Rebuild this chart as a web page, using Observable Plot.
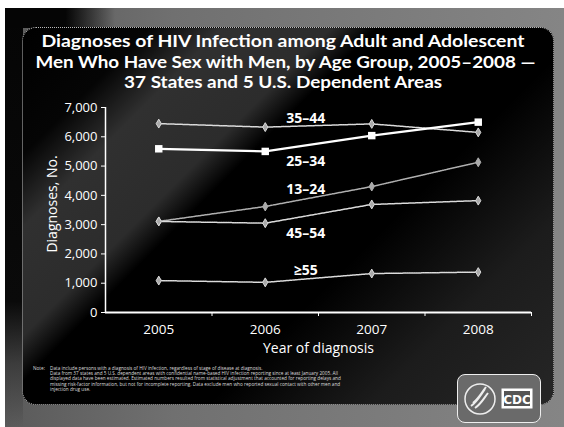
<!DOCTYPE html>
<html>
<head>
<meta charset="utf-8">
<script src="https://cdn.jsdelivr.net/npm/d3@7"></script>
<script src="https://cdn.jsdelivr.net/npm/@observablehq/plot@0.6"></script>
<style>
  html, body { margin: 0; padding: 0; background: #fff; }
  #page { position: relative; width: 564px; height: 427px; overflow: hidden; background: #fff; font-family: "Open Sans", sans-serif; }
  #frame { position: absolute; left: 5px; top: 8px; width: 559px; height: 419px;
    background: linear-gradient(90deg, #5a5a5a 0%, #707070 30%, #858585 100%); }
  #frameLeft { position: absolute; left: 5px; top: 8px; width: 18px; height: 419px;
    background: linear-gradient(to bottom, #050505 0%, #0a0a0a 70%, rgba(40,40,40,0.6) 85%, rgba(0,0,0,0) 100%); }
  #frameTop { position: absolute; left: 5px; top: 8px; width: 110px; height: 20px;
    background: linear-gradient(90deg, #050505 0%, #050505 55%, rgba(0,0,0,0) 100%); }
  #panel { position: absolute; left: 22px; top: 27px; width: 530px; height: 376px; border-radius: 14px;
    border: 1px dotted #bbb;
    background: linear-gradient(135deg, #000 0%, #050505 14%, #303030 22%, #2c2c2c 34%, #000 39%, #000 62%, #1c1c1c 80%, #262626 100%); }
  .tline { position: absolute; left: 0; width: 564px; text-align: center; color: #fff; height: 18px;
    font-family: Lato, sans-serif; font-weight: bold; font-size: 17.5px; line-height: 18px; white-space: nowrap; }
  .tline span { display: inline-block; transform-origin: 50% 50%; }
  #chart { position: absolute; left: 0; top: 90px; }
  #note { position: absolute; left: 33px; top: 366px; width: 330px; color: #ddd; font-size: 4.7px; line-height: 5.2px; }
  #note .lbl { position: absolute; left: 0; top: 0; }
  #note .txt { margin-left: 17px; white-space: nowrap; }
  #logo { position: absolute; left: 457px; top: 374px; width: 82px; height: 47px; border-radius: 8px;
    border: 1px solid #eee; background: #6a6a6a; }
</style>
</head>
<body>
<div id="page">
  <div id="frame"></div>
  <div id="frameLeft"></div>
  <div id="frameTop"></div>
  <div id="panel"></div>
  <div class="tline" id="t1" style="top:32px"><span>Diagnoses of HIV Infection among Adult and Adolescent</span></div>
  <div class="tline" id="t2" style="top:52.5px"><span>Men Who Have Sex with Men, by Age Group, 2005–2008 —</span></div>
  <div class="tline" id="t3" style="top:73px"><span>37 States and 5 U.S. Dependent Areas</span></div>
  <div id="chart"></div>
  <div id="note"><span class="lbl">Note:</span><div class="txt">Data include persons with a diagnosis of HIV infection, regardless of stage of disease at diagnosis.<br>Data from 37 states and 5 U.S. dependent areas with confidential name-based HIV infection reporting since at least January 2005. All<br>displayed data have been estimated. Estimated numbers resulted from statistical adjustment that accounted for reporting delays and<br>missing risk-factor information, but not for incomplete reporting. Data exclude men who reported sexual contact with other men and<br>injection drug use.</div></div>
  <div id="logo">
    <svg width="82" height="47" viewBox="0 0 82 47">
      <circle cx="22" cy="24" r="15" fill="none" stroke="#eee" stroke-width="1.5"/>
      <path d="M13 31 C19 27, 22 21, 27 14 M17 33 C23 29, 26 23, 30 18 M15 28 C21 23, 24 17, 28 12" stroke="#eee" stroke-width="2" fill="none"/>
      <rect x="44" y="14" width="30" height="19" fill="#fff" stroke="#fff"/>
      <rect x="46" y="16" width="26" height="15" fill="#555"/>
      <text x="59" y="28.5" text-anchor="middle" fill="#fff" font-family="DejaVu Sans" font-weight="bold" font-size="12">CDC</text>
    </svg>
  </div>
</div>
<script>
const years = [2005, 2006, 2007, 2008];
const groups = ["35–44", "25–34", "13–24", "45–54", "≥55"];
const v35_44 = [6450, 6330, 6440, 6150];
const v25_34 = [5590, 5500, 6040, 6500];
const v13_24 = [3110, 3620, 4300, 5130];
const v45_54 = [3110, 3050, 3690, 3820];
const v55plus = [1090, 1030, 1330, 1380];
const yTicks = [0, 1000, 2000, 3000, 4000, 5000, 6000, 7000];
const labelY = [6620, 5150, 4200, 2700, 1430];
const labelYear = 2006.38;

// title line fitting (target widths/centres)
const titleFit = [["t1", 483, 283], ["t2", 500, 285], ["t3", 318, 283]];
titleFit.forEach(([id, w, c]) => {
  const s = document.querySelector("#" + id + " span");
  const bw = s.getBoundingClientRect().width;
  s.style.transform = `translateX(${c - 282}px) scaleX(${w / bw})`;
});

const seriesValues = [v35_44, v25_34, v13_24, v45_54, v55plus];
const rows = [];
groups.forEach((g, i) => years.forEach((yr, j) => rows.push({group: g, year: yr, value: seriesValues[i][j]})));
const labels = groups.map((g, i) => ({group: g, year: labelYear, value: labelY[i]}));

const thin = rows.filter(d => d.group !== "25–34");
const thick = rows.filter(d => d.group === "25–34");
const strokeOf = g => g === "13–24" ? "#b0b0b0" : "#dcdcdc";

const chart = Plot.plot({
  width: 564,
  height: 270,
  marginLeft: 105,
  marginRight: 33,
  marginTop: 17,
  marginBottom: 48,
  style: {background: "transparent", color: "#fff", fontFamily: "Open Sans, sans-serif", overflow: "visible"},
  x: {type: "linear", domain: [2004.5, 2008.5]},
  y: {domain: [0, 7000]},
  marks: [
    Plot.axisY(yTicks, {tickFormat: d3.format(","), tickSize: 4, tickPadding: 4, fontSize: 13, label: null, stroke: "#fff"}),
    Plot.axisX(years, {tickFormat: d => String(d), tickSize: 0, tickPadding: 12, fontSize: 13.5, label: null}),
    Plot.axisX([2005.5, 2006.5, 2007.5, 2008.5], {tickFormat: () => "", tickSize: 4, label: null, stroke: "#fff"}),
    Plot.ruleX([2004.5], {y1: 0, y2: 7000, stroke: "#fff", strokeWidth: 1.5}),
    Plot.ruleY([0], {stroke: "#fff", strokeWidth: 2}),
    Plot.line(thin, {x: "year", y: "value", z: "group", stroke: d => strokeOf(d.group), strokeWidth: 1.5, strokeDasharray: "1.5,0.8"}),
    Plot.line(thick, {x: "year", y: "value", stroke: "#fff", strokeWidth: 2.2}),
    Plot.dot(thin, {x: "year", y: "value", symbol: "diamond", r: 2.7, fill: "#aaa", stroke: d => strokeOf(d.group), strokeWidth: 1}),
    Plot.dot(thick, {x: "year", y: "value", symbol: "square", r: 4.2, fill: "#fff"}),
    Plot.text(labels, {x: "year", y: "value", text: "group", fill: "#fff", fontSize: 14, fontWeight: "bold"}),
    Plot.text(["Diagnoses, No."], {frameAnchor: "left", textAnchor: "middle", rotate: -90, dx: -53, dy: -6, fontSize: 14, fill: "#fff"}),
    Plot.text(["Year of diagnosis"], {frameAnchor: "bottom", lineAnchor: "middle", dy: 36, fontSize: 14, fill: "#fff"})
  ]
});
document.getElementById("chart").appendChild(chart);
</script>
</body>
</html>
